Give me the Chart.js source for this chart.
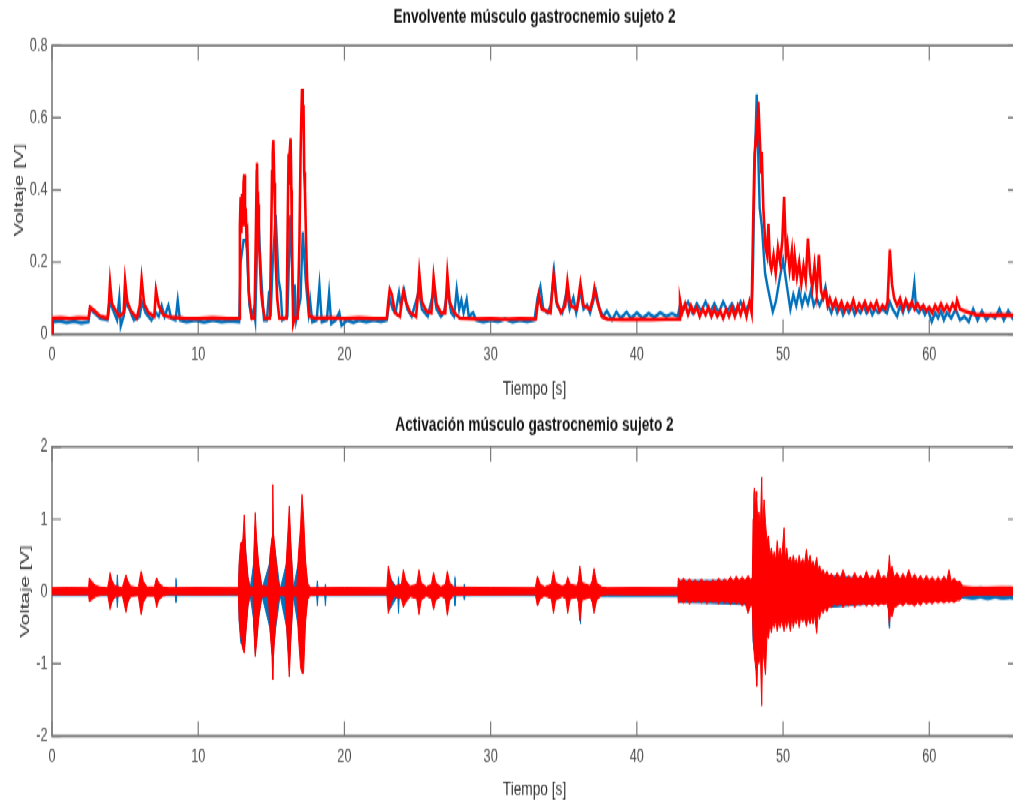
<!DOCTYPE html>
<html><head><meta charset="utf-8">
<script src="https://cdn.jsdelivr.net/npm/chart.js@4.4.1/dist/chart.umd.min.js"></script>
<style>
html,body{margin:0;padding:0;background:#fff;overflow:hidden;}
#outer{width:1013px;height:802px;overflow:hidden;position:relative;background:#fff;}
#inner{position:absolute;left:0;top:0;width:1030px;transform:scaleY(1.5);transform-origin:0 0;}
canvas{display:block;}
</style></head><body>
<div id="outer"><div id="inner">
<canvas id="cTop" width="1030" height="267"></canvas>
<canvas id="cBot" width="1030" height="268"></canvas>
</div></div>
<script>
// ---------- axis ticks ----------
const xTicks = [0,10,20,30,40,50,60];
const xTickLabels = ['0','10','20','30','40','50','60'];
const yTicksTop = [0,0.2,0.4,0.6,0.8];
const yTickLabelsTop = ['0','0.2','0.4','0.6','0.8'];
const yTicksBot = [-2,-1,0,1,2];
const yTickLabelsBot = ['-2','-1','0','1','2'];

// ---------- top plot: envelope (red) ----------
const topRedT = [0,0.05,0.6,1.2,1.8,2.5,2.6,2.9,3.3,3.8,
 3.9,3.97,4.1,4.3,4.6,4.9,5.0,5.15,5.4,5.8,
 6.0,6.13,6.3,6.6,7.0,7.11,7.3,7.6,8.0,9.0,
 10,11,12,12.8,12.85,12.9,12.95,13.0,13.05,13.1,
 13.15,13.2,13.25,13.3,13.35,13.45,13.5,13.65,13.85,13.95,
 14.0,14.02,14.06,14.1,14.15,14.2,14.3,14.4,14.55,14.9,
 15.0,15.05,15.1,15.14,15.2,15.25,15.3,15.4,15.55,16.05,
 16.12,16.18,16.22,16.25,16.32,16.37,16.4,16.45,16.5,16.6,
 16.8,16.92,17.0,17.05,17.1,17.15,17.2,17.25,17.3,17.38,
 17.45,17.6,
 18,19,20,21,22,22.9,23.0,23.1,23.25,23.45,
 23.8,23.95,24.03,24.2,24.5,24.9,25.05,25.12,25.3,25.6,
 25.95,26.1,26.3,26.6,26.9,27.04,27.2,27.5,27.9,29,
 30,31,32,33.1,33.2,33.3,33.5,34.1,34.3,34.5,
 34.8,35.1,35.25,35.45,35.9,36.14,36.35,36.8,37.0,37.1,
 37.3,37.6,38,39,40,41,42,42.9,42.95,43.1,
 43.3,43.5,43.7,43.9,44.1,44.3,44.5,44.7,44.9,45.1,
 45.3,45.5,45.7,45.9,46.1,46.3,46.5,46.7,46.9,47.1,
 47.3,47.5,47.7,47.85,47.95,48.05,48.15,48.2,48.31,48.4,
 48.5,48.54,48.65,48.8,48.9,49.0,49.1,49.2,49.35,49.5,
 49.65,49.8,49.95,50.07,50.2,50.3,50.45,50.6,50.7,50.8,
 50.95,51.1,51.25,51.4,51.55,51.7,51.85,52.0,52.15,52.3,
 52.45,52.6,52.75,52.9,53.05,53.2,53.4,53.6,53.8,54.0,
 54.2,54.4,54.6,54.8,55.0,55.2,55.4,55.6,55.8,56.0,
 56.2,56.4,56.6,56.8,57.0,57.15,57.3,57.45,57.6,57.8,
 58.0,58.2,58.4,58.6,58.8,59.0,59.2,59.4,59.6,59.8,
 60.0,60.2,60.4,60.6,60.8,61.0,61.2,61.4,61.6,61.8,
 61.9,62.1,62.4,62.8,63.2,64,65,66];
const topRedV = [0,0.045,0.046,0.044,0.046,0.045,0.075,0.065,0.05,0.045,
 0.09,0.143,0.085,0.07,0.05,0.06,0.148,0.09,0.065,0.045,
 0.08,0.153,0.085,0.06,0.05,0.123,0.08,0.055,0.048,0.045,
 0.044,0.046,0.044,0.045,0.3,0.38,0.28,0.39,0.3,0.42,
 0.443,0.3,0.35,0.27,0.28,0.12,0.1,0.045,0.045,0.3,
 0.45,0.475,0.35,0.36,0.25,0.22,0.12,0.08,0.045,0.045,
 0.3,0.45,0.5,0.538,0.42,0.35,0.2,0.1,0.045,0.045,
 0.3,0.5,0.42,0.5,0.543,0.4,0.3,0.15,0.03,0.045,
 0.045,0.25,0.5,0.6,0.681,0.6,0.635,0.45,0.4,0.25,
 0.15,0.05,
 0.045,0.046,0.044,0.046,0.044,0.045,0.09,0.125,0.11,0.06,
 0.05,0.1,0.12,0.09,0.06,0.05,0.12,0.169,0.09,0.065,
 0.06,0.158,0.085,0.06,0.06,0.166,0.09,0.06,0.045,0.043,
 0.044,0.042,0.044,0.043,0.08,0.109,0.07,0.06,0.165,0.09,
 0.06,0.08,0.146,0.08,0.07,0.141,0.08,0.07,0.1,0.129,
 0.09,0.05,0.042,0.041,0.042,0.041,0.042,0.042,0.095,0.06,
 0.085,0.055,0.08,0.06,0.075,0.05,0.07,0.055,0.075,0.05,
 0.07,0.05,0.065,0.045,0.07,0.05,0.075,0.05,0.08,0.055,
 0.085,0.05,0.09,0.06,0.3,0.5,0.55,0.52,0.644,0.55,
 0.45,0.506,0.35,0.24,0.22,0.307,0.2,0.18,0.22,0.17,
 0.24,0.2,0.26,0.381,0.22,0.25,0.18,0.23,0.15,0.217,
 0.16,0.2,0.14,0.19,0.15,0.266,0.17,0.13,0.19,0.12,
 0.22,0.12,0.1,0.12,0.08,0.1,0.075,0.095,0.07,0.09,
 0.065,0.085,0.07,0.095,0.065,0.085,0.07,0.09,0.065,0.085,
 0.07,0.09,0.065,0.08,0.07,0.09,0.235,0.14,0.1,0.08,
 0.1,0.07,0.095,0.075,0.09,0.07,0.085,0.07,0.08,0.065,
 0.075,0.06,0.08,0.065,0.085,0.065,0.08,0.065,0.085,0.07,
 0.095,0.07,0.065,0.06,0.055,0.053,0.054,0.053];

// ---------- top plot: envelope (blue) ----------
const topBlueT = [0,0.05,0.5,1.0,1.5,2.0,2.5,2.6,2.9,3.3,
 3.8,3.97,4.2,4.45,4.6,4.7,4.9,5.05,5.3,5.6,
 6.0,6.15,6.4,6.8,7.1,7.3,7.5,7.7,7.96,8.15,
 8.45,8.6,8.75,9.2,9.8,10.4,11.0,11.6,12.2,12.8,
 12.9,13.1,13.3,13.5,13.65,13.8,13.9,14.0,14.1,14.25,
 14.4,14.5,14.7,14.85,14.95,15.1,15.3,15.5,15.64,15.75,
 16.1,16.3,16.45,16.55,16.6,16.7,17.0,17.15,17.35,17.55,
 17.65,17.8,18.1,18.29,18.45,18.8,18.95,19.1,19.4,19.65,
 19.8,20.2,20.6,21.0,21.5,22.0,22.5,22.9,23.1,23.3,
 23.5,23.73,23.85,24.1,24.3,24.6,25.1,25.3,25.7,26.1,
 26.3,26.6,26.8,27.05,27.3,27.5,27.68,27.85,28.0,28.15,
 28.36,28.5,28.8,29.0,29.5,30.0,30.5,31.0,31.5,32.0,
 32.5,33.0,33.2,33.4,33.6,33.9,34.1,34.34,34.55,34.9,
 35.2,35.4,35.66,35.85,36.14,36.35,36.6,36.8,37.2,37.45,
 37.7,37.95,38.3,38.6,38.9,39.3,39.6,40.0,40.4,40.8,
 41.2,41.6,42.0,42.4,42.8,42.95,43.2,43.5,43.8,44.1,
 44.4,44.7,45.0,45.3,45.6,45.9,46.2,46.5,46.8,47.1,
 47.4,47.7,47.85,47.95,48.05,48.2,48.3,48.4,48.55,48.77,
 49.0,49.3,49.5,49.75,50.0,50.2,50.5,50.7,50.9,51.1,
 51.3,51.5,51.7,51.9,52.1,52.3,52.5,52.7,52.9,53.1,
 53.3,53.5,53.7,53.9,54.1,54.3,54.5,54.7,54.9,55.1,
 55.3,55.5,55.7,55.9,56.1,56.3,56.5,56.8,57.1,57.3,
 57.5,57.8,58.0,58.2,58.4,58.6,58.8,58.98,59.1,59.3,
 59.5,59.7,59.9,60.17,60.4,60.6,60.8,61.0,61.2,61.5,
 61.8,62.1,62.4,62.7,63.0,63.3,63.6,63.9,64.2,64.5,
 64.8,65.1,65.4,65.7,66.0];
const topBlueV = [0,0.035,0.038,0.033,0.037,0.032,0.035,0.07,0.06,0.045,
 0.04,0.09,0.065,0.04,0.1,0.023,0.05,0.09,0.07,0.04,
 0.05,0.09,0.06,0.04,0.06,0.05,0.08,0.05,0.08,0.045,
 0.04,0.095,0.04,0.035,0.04,0.034,0.04,0.035,0.038,0.035,
 0.2,0.26,0.26,0.08,0.05,0.07,0.04,0.2,0.35,0.2,
 0.1,0.04,0.04,0.12,0.05,0.2,0.33,0.15,0.117,0.04,
 0.05,0.33,0.15,0.04,0.138,0.04,0.1,0.284,0.15,0.06,
 0.095,0.035,0.04,0.135,0.035,0.04,0.113,0.03,0.04,0.061,
 0.025,0.04,0.033,0.04,0.035,0.04,0.036,0.04,0.1,0.07,
 0.06,0.115,0.08,0.12,0.07,0.05,0.12,0.07,0.05,0.12,
 0.07,0.05,0.06,0.12,0.06,0.05,0.125,0.07,0.095,0.06,
 0.097,0.05,0.06,0.04,0.035,0.04,0.036,0.043,0.035,0.04,
 0.036,0.04,0.1,0.132,0.07,0.06,0.08,0.173,0.08,0.06,
 0.12,0.07,0.102,0.06,0.12,0.07,0.081,0.06,0.12,0.07,
 0.05,0.065,0.04,0.062,0.045,0.062,0.045,0.06,0.045,0.058,
 0.048,0.06,0.05,0.058,0.05,0.08,0.07,0.09,0.06,0.085,
 0.065,0.09,0.06,0.085,0.06,0.09,0.065,0.085,0.06,0.09,
 0.065,0.085,0.07,0.2,0.45,0.665,0.5,0.35,0.3,0.169,
 0.12,0.063,0.09,0.15,0.206,0.15,0.07,0.11,0.08,0.12,
 0.08,0.11,0.085,0.12,0.08,0.1,0.08,0.1,0.132,0.08,
 0.06,0.085,0.06,0.08,0.055,0.075,0.06,0.08,0.055,0.07,
 0.06,0.08,0.06,0.075,0.055,0.07,0.06,0.07,0.06,0.09,
 0.07,0.05,0.08,0.06,0.09,0.065,0.08,0.141,0.07,0.06,
 0.075,0.055,0.07,0.035,0.06,0.045,0.065,0.04,0.06,0.045,
 0.07,0.04,0.05,0.035,0.07,0.04,0.065,0.04,0.055,0.045,
 0.07,0.04,0.065,0.045,0.06];

// ---------- bottom plot: raw activation band (red): time, upper edge, lower edge ----------
const botRedT = [0,1.2,2.5,2.55,2.8,3.0,3.3,3.8,3.9,3.97,
 4.1,4.3,4.8,4.95,5.06,5.2,5.4,5.9,6.0,6.1,
 6.25,6.5,7.0,7.1,7.16,7.3,7.6,8.0,10.0,12.75,
 12.8,12.9,13.05,13.15,13.25,13.4,13.55,13.75,13.8,13.9,
 14.0,14.15,14.35,14.8,14.9,15.05,15.1,15.15,15.25,15.45,
 15.6,15.95,16.05,16.23,16.35,16.5,16.75,16.85,17.0,17.1,
 17.2,17.35,17.5,17.7,20.0,22.9,23.0,23.2,23.4,23.9,
 24.03,24.2,24.5,24.95,25.1,25.25,25.6,25.95,26.1,26.25,
 26.6,26.9,27.04,27.2,27.5,30.0,33.05,33.2,33.4,33.7,
 34.15,34.3,34.45,34.9,35.15,35.27,35.45,35.9,36.0,36.1,
 36.25,36.8,36.95,37.07,37.25,37.6,38.0,40.0,42.8,
 42.84,43.0,43.2,43.4,43.6,43.8,44.0,44.2,44.4,44.6,
 44.8,45.0,45.2,45.4,45.6,45.8,46.0,46.2,46.4,46.6,
 46.8,47.0,47.2,47.4,47.6,47.8,47.9,47.95,48.0,48.04,
 48.1,48.15,48.2,48.27,48.35,48.45,48.54,48.6,48.7,48.8,
 48.9,49.0,49.1,49.2,49.3,49.4,49.5,49.6,49.7,49.8,
 49.9,50.07,50.15,50.25,50.35,50.5,50.6,50.7,50.8,50.9,
 51.0,51.1,51.2,51.35,51.45,51.6,51.7,51.85,51.95,52.05,
 52.15,52.3,52.4,52.5,52.6,52.75,52.85,53.0,53.15,53.3,
 53.5,53.7,53.9,54.1,54.3,54.5,54.7,54.9,55.1,55.3,
 55.5,55.7,55.9,56.1,56.3,56.5,56.7,56.9,57.1,57.2,
 57.27,57.35,57.45,57.6,57.8,58.0,58.2,58.4,58.6,58.8,
 59.0,59.2,59.4,59.6,59.8,60.0,60.2,60.4,60.6,60.8,
 61.0,61.2,61.35,61.5,61.7,61.9,62.1,62.3,63.0,64.0,
 65.0,66.0];
const botRedUp = [0.05,0.055,0.05,0.185,0.12,0.08,0.06,0.05,0.15,0.26,
 0.15,0.08,0.05,0.15,0.23,0.14,0.07,0.05,0.18,0.28,
 0.14,0.06,0.06,0.15,0.19,0.12,0.06,0.05,0.055,0.05,
 0.4,0.67,0.7,1.06,0.55,0.2,0.06,0.05,0.5,1.09,
 0.7,0.35,0.08,0.06,0.5,0.75,1.48,0.8,0.6,0.15,
 0.05,0.06,0.5,1.18,0.6,0.06,0.06,0.5,0.9,1.34,
 1.05,0.4,0.1,0.05,0.055,0.05,0.35,0.15,0.07,0.1,
 0.3,0.15,0.07,0.1,0.3,0.12,0.06,0.1,0.26,0.12,
 0.06,0.1,0.28,0.12,0.06,0.055,0.05,0.21,0.1,0.06,
 0.1,0.28,0.12,0.07,0.1,0.2,0.1,0.08,0.15,0.35,
 0.12,0.08,0.15,0.32,0.12,0.06,0.05,0.055,0.05,
 0.185,0.14,0.18,0.13,0.17,0.13,0.16,0.12,0.17,0.13,
 0.15,0.12,0.16,0.13,0.18,0.13,0.17,0.14,0.2,0.14,
 0.21,0.15,0.2,0.15,0.22,0.16,0.2,1.0,1.35,1.43,
 1.1,1.38,1.3,0.95,1.1,0.9,1.58,0.85,1.27,0.95,
 0.7,0.77,0.5,0.6,0.45,0.55,0.42,0.7,0.45,0.6,
 0.45,0.88,0.45,0.6,0.42,0.48,0.38,0.5,0.38,0.45,
 0.36,0.5,0.38,0.45,0.36,0.58,0.38,0.5,0.35,0.42,
 0.33,0.47,0.3,0.36,0.27,0.3,0.22,0.28,0.2,0.25,
 0.18,0.26,0.17,0.3,0.17,0.22,0.16,0.26,0.17,0.22,
 0.16,0.28,0.17,0.22,0.16,0.3,0.17,0.22,0.17,0.3,
 0.5,0.28,0.35,0.2,0.26,0.17,0.25,0.17,0.3,0.17,
 0.24,0.16,0.22,0.15,0.22,0.15,0.2,0.14,0.2,0.14,
 0.21,0.15,0.3,0.14,0.18,0.13,0.14,0.07,0.06,0.06,
 0.065,0.06];
const botRedLo = [-0.04,-0.045,-0.04,-0.14,-0.1,-0.07,-0.05,-0.04,-0.15,-0.25,
 -0.15,-0.08,-0.05,-0.18,-0.29,-0.14,-0.07,-0.05,-0.2,-0.32,
 -0.15,-0.06,-0.06,-0.15,-0.22,-0.12,-0.06,-0.04,-0.045,-0.04,
 -0.4,-0.6,-0.8,-0.85,-0.6,-0.2,-0.06,-0.05,-0.5,-0.9,
 -0.7,-0.35,-0.08,-0.06,-0.5,-0.9,-1.22,-0.9,-0.55,-0.15,
 -0.05,-0.06,-0.5,-1.18,-0.6,-0.06,-0.06,-0.6,-1.05,-1.13,
 -1.13,-0.4,-0.1,-0.05,-0.045,-0.04,-0.3,-0.15,-0.07,-0.1,
 -0.22,-0.15,-0.07,-0.1,-0.32,-0.12,-0.06,-0.1,-0.25,-0.12,
 -0.06,-0.1,-0.33,-0.12,-0.05,-0.045,-0.04,-0.2,-0.1,-0.06,
 -0.1,-0.3,-0.12,-0.07,-0.1,-0.3,-0.1,-0.08,-0.15,-0.41,
 -0.12,-0.08,-0.15,-0.3,-0.12,-0.05,-0.04,-0.045,-0.04,
 -0.16,-0.13,-0.16,-0.12,-0.17,-0.13,-0.15,-0.12,-0.16,-0.12,
 -0.17,-0.12,-0.15,-0.13,-0.17,-0.12,-0.16,-0.13,-0.18,-0.13,
 -0.17,-0.14,-0.2,-0.15,-0.3,-0.18,-0.2,-0.6,-0.8,-0.9,
 -1.0,-1.1,-1.31,-0.95,-1.0,-0.85,-1.58,-0.8,-0.95,-1.15,
 -0.6,-0.65,-0.45,-0.57,-0.42,-0.5,-0.4,-0.55,-0.42,-0.5,
 -0.4,-0.55,-0.4,-0.5,-0.38,-0.55,-0.36,-0.5,-0.38,-0.45,
 -0.35,-0.5,-0.36,-0.42,-0.36,-0.48,-0.36,-0.45,-0.34,-0.45,
 -0.32,-0.58,-0.3,-0.38,-0.26,-0.3,-0.22,-0.28,-0.19,-0.22,
 -0.17,-0.2,-0.16,-0.22,-0.17,-0.2,-0.16,-0.22,-0.16,-0.19,
 -0.15,-0.2,-0.16,-0.2,-0.15,-0.2,-0.16,-0.18,-0.16,-0.25,
 -0.46,-0.3,-0.35,-0.22,-0.2,-0.16,-0.2,-0.15,-0.18,-0.17,
 -0.2,-0.15,-0.19,-0.14,-0.17,-0.14,-0.17,-0.13,-0.16,-0.13,
 -0.16,-0.13,-0.15,-0.13,-0.15,-0.12,-0.12,-0.06,-0.05,-0.05,
 -0.055,-0.05];

// ---------- bottom plot: raw activation band (blue): time, upper edge, lower edge ----------
const botBlueT = [0,4.42,4.47,4.52,8.43,8.48,8.53,12.75,12.8,12.9,
 13.15,13.4,13.55,13.8,13.9,14.1,14.35,14.9,15.1,15.3,
 15.6,16.05,16.23,16.5,16.85,17.1,17.3,17.5,18.1,18.15,
 18.2,18.65,18.7,18.75,23.0,23.1,23.65,23.7,23.75,27.5,
 27.56,27.62,28.15,28.2,28.25,36.1,36.15,36.2,38.0,42.84,
 42.9,45.0,47.5,47.9,47.95,48.0,48.2,57.2,57.25,57.3,
 62.0,62.3,63.0,63.5,64.0,64.5,65.0,65.5,66.0];
const botBlueUp = [0.03,0.03,0.23,0.03,0.03,0.18,0.03,0.03,0.35,0.55,
 0.8,0.2,0.03,0.4,0.9,0.4,0.03,0.4,0.8,0.5,
 0.03,0.4,1.0,0.03,0.4,1.0,0.4,0.03,0.03,0.15,
 0.03,0.03,0.1,0.03,0.03,0.2,0.03,0.2,0.03,0.03,
 0.2,0.03,0.03,0.1,0.03,0.03,0.3,0.03,0.03,0.04,
 0.15,0.15,0.15,0.15,0.5,0.4,0.3,0.15,0.3,0.15,
 0.1,0.05,0.05,0.06,0.05,0.055,0.05,0.06,0.05];
const botBlueLo = [-0.055,-0.055,-0.22,-0.055,-0.055,-0.15,-0.055,-0.055,-0.4,-0.7,
 -0.8,-0.2,-0.055,-0.4,-0.85,-0.4,-0.055,-0.5,-0.9,-0.5,
 -0.055,-0.5,-1.0,-0.055,-0.5,-1.0,-0.4,-0.055,-0.055,-0.2,
 -0.055,-0.055,-0.2,-0.055,-0.055,-0.25,-0.055,-0.3,-0.055,-0.055,
 -0.2,-0.055,-0.055,-0.12,-0.055,-0.055,-0.45,-0.07,-0.07,-0.07,
 -0.15,-0.16,-0.18,-0.2,-0.71,-0.4,-0.3,-0.15,-0.5,-0.15,
 -0.1,-0.09,-0.11,-0.09,-0.115,-0.09,-0.11,-0.1,-0.11];

// ---------- helpers ----------
const RED = '#ff0000', BLUE = '#0072bd';
const FONT = "'Liberation Sans', Arial, sans-serif";
const pts = (t, v) => t.slice(0, Math.min(t.length, v.length)).map((x, i) => ({x, y: v[i]}));

const matlabAxes = {
  id: 'matlabAxes',
  beforeDatasetsDraw(chart, args, o) {
    const {ctx, chartArea: a, scales: {x, y}} = chart;
    ctx.save();
    ctx.strokeStyle = o.color;
    ctx.lineWidth = o.width;
    ctx.beginPath();
    ctx.rect(a.left, a.top, a.right - a.left, a.bottom - a.top);
    ctx.stroke();
    ctx.beginPath();
    x.ticks.forEach(t => {
      const px = x.getPixelForValue(t.value);
      ctx.moveTo(px, a.bottom); ctx.lineTo(px, a.bottom - o.tx);
      ctx.moveTo(px, a.top); ctx.lineTo(px, a.top + o.tx);
    });
    y.ticks.forEach(t => {
      const py = y.getPixelForValue(t.value);
      ctx.moveTo(a.left, py); ctx.lineTo(a.left + o.ty, py);
      ctx.moveTo(a.right, py); ctx.lineTo(a.right - o.ty, py);
    });
    ctx.lineWidth = o.tickWidth;
    ctx.stroke();
    ctx.restore();
  }
};

function makeOptions(cfg) {
  return {
    responsive: false, animation: false, devicePixelRatio: 1,
    layout: {padding: {left: 0, right: 13, top: 0, bottom: 0}},
    elements: {point: {radius: 0}},
    plugins: {
      legend: {display: false}, tooltip: {enabled: false},
      title: {display: true, text: cfg.title, fullSize: false, color: '#111',
        font: {family: FONT, size: 13.7, weight: 'bold', lineHeight: 1},
        padding: {top: cfg.tPadTop, bottom: cfg.tPadBottom}},
      matlabAxes: {color: '#7a7a7a', width: 1.6, tickWidth: 1.2, tx: 10, ty: 9}
    },
    scales: {
      x: {
        type: 'linear', min: 0, max: 66,
        grid: {display: false, drawTicks: false, tickLength: 0}, border: {display: false},
        afterBuildTicks: s => { s.ticks = xTicks.map(v => ({value: v})); },
        afterFit: s => { s.height = cfg.xHeight; },
        ticks: {padding: cfg.xTickPad, color: '#4a4a4a', autoSkip: false, maxRotation: 0,
          font: {family: FONT, size: 12.7},
          callback: v => xTickLabels[xTicks.indexOf(v)]},
        title: {display: true, text: 'Tiempo [s]', color: '#303030',
          font: {family: FONT, size: 13.7}, padding: {top: 0, bottom: cfg.xTitlePad}}
      },
      y: {
        type: 'linear', min: cfg.yMin, max: cfg.yMax,
        grid: {display: false, drawTicks: false, tickLength: 0}, border: {display: false},
        afterBuildTicks: s => { s.ticks = cfg.yTicks.map(v => ({value: v})); },
        afterFit: s => { s.width = 52; },
        ticks: {padding: 4.5, color: '#4a4a4a', font: {family: FONT, size: 12.7},
          callback: v => cfg.yLabels[cfg.yTicks.indexOf(v)]},
        title: {display: true, text: 'Voltaje [V]', color: '#303030',
          font: {family: FONT, size: 13.7}, padding: {top: cfg.yTitlePad, bottom: 0}}
      }
    }
  };
}

new Chart(document.getElementById('cTop'), {
  type: 'line',
  data: {datasets: [
    {data: pts(topRedT, topRedV), borderColor: RED, borderWidth: 2.6, fill: false, tension: 0},
    {data: pts(topBlueT, topBlueV), borderColor: BLUE, borderWidth: 2.4, fill: false, tension: 0}
  ]},
  options: makeOptions({title: 'Envolvente músculo gastrocnemio sujeto 2',
    tPadTop: 4.8, tPadBottom: 11.8, xHeight: 44.13, xTickPad: 6, xTitlePad: 0,
    yMin: 0, yMax: 0.8, yTicks: yTicksTop, yLabels: yTickLabelsTop, yTitlePad: 11.3}),
  plugins: [matlabAxes]
});

new Chart(document.getElementById('cBot'), {
  type: 'line',
  data: {datasets: [
    {data: pts(botRedT, botRedUp), borderColor: RED, backgroundColor: RED, borderWidth: 1, fill: false, tension: 0},
    {data: pts(botRedT, botRedLo), borderColor: RED, backgroundColor: RED, borderWidth: 1, fill: '-1', tension: 0},
    {data: pts(botBlueT, botBlueUp), borderColor: BLUE, backgroundColor: BLUE, borderWidth: 1, fill: false, tension: 0},
    {data: pts(botBlueT, botBlueLo), borderColor: BLUE, backgroundColor: BLUE, borderWidth: 1, fill: '-1', tension: 0}
  ]},
  options: makeOptions({title: 'Activación músculo gastrocnemio sujeto 2',
    tPadTop: 9.5, tPadBottom: 7.6, xHeight: 44.33, xTickPad: 6.2, xTitlePad: 0.6,
    yMin: -2, yMax: 2, yTicks: yTicksBot, yLabels: yTickLabelsBot, yTitlePad: 17.3}),
  plugins: [matlabAxes]
});
</script>
</body></html>
